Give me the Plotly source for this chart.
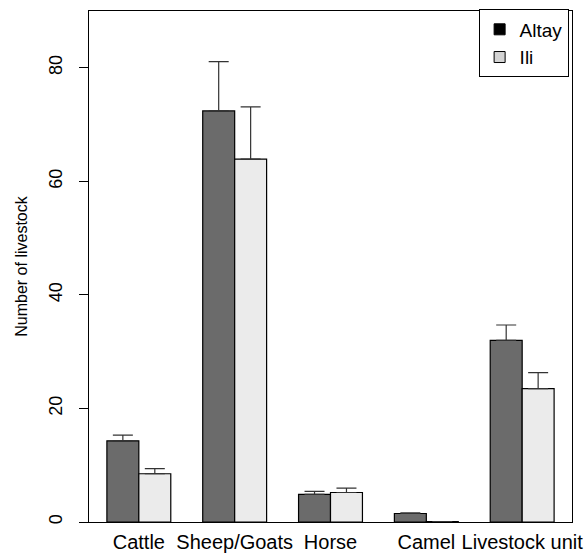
import plotly.graph_objects as go

categories = ["Cattle", "Sheep/Goats", "Horse", "Camel", "Livestock unit"]
altay = [14.3, 72.4, 4.85, 1.5, 32.0]
altay_err = [1.0, 8.7, 0.55, 0.12, 2.7]
ili = [8.5, 63.9, 5.2, 0.05, 23.5]
ili_err = [0.9, 9.2, 0.75, 0.0, 2.8]
series_names = ["Altay", "Ili"]
yticks = [0, 20, 40, 60, 80]

FONT = "Liberation Sans, Arial, Helvetica, sans-serif"

fig = go.Figure()
fig.add_trace(go.Bar(
    x=categories, y=altay, name=series_names[0], showlegend=False,
    marker=dict(color="#6b6b6b", line=dict(color="black", width=1.2)),
    error_y=dict(type="data", array=altay_err, arrayminus=[0] * len(altay),
                 symmetric=False, color="#333333", thickness=1.2, width=10),
))
fig.add_trace(go.Bar(
    x=categories, y=ili, name=series_names[1], showlegend=False,
    marker=dict(color="#ebebeb", line=dict(color="black", width=1.2)),
    error_y=dict(type="data", array=ili_err, arrayminus=[0] * len(ili),
                 symmetric=False, color="#333333", thickness=1.2, width=10),
))
# legend-only entries (R legend style)
fig.add_trace(go.Scatter(
    x=[None], y=[None], mode="markers", name=series_names[0],
    marker=dict(symbol="square", size=11, color="black",
                line=dict(color="black", width=1)),
))
fig.add_trace(go.Scatter(
    x=[None], y=[None], mode="markers", name=series_names[1],
    marker=dict(symbol="square", size=11, color="#d4d4d4",
                line=dict(color="black", width=1)),
))

fig.update_layout(
    width=587, height=554,
    margin=dict(l=89, r=15, t=11, b=32, autoexpand=False),
    paper_bgcolor="white", plot_bgcolor="white",
    barmode="group", bargap=1 / 3, bargroupgap=0,
    font=dict(family=FONT, size=18, color="black"),
    showlegend=True,
    legend=dict(x=0.993, y=1.003, xanchor="right", yanchor="top",
                bordercolor="black", borderwidth=1, bgcolor="white",
                font=dict(size=19), tracegroupgap=0, itemwidth=30),
)
fig.update_xaxes(
    type="category", range=[-0.52, 4.52], automargin=False,
    showline=True, linecolor="black", linewidth=1, mirror=True,
    ticks="", showgrid=False, tickfont=dict(size=20), tickangle=0,
    ticklabelstandoff=2,
)
fig.update_yaxes(
    range=[0, 90], tickvals=yticks, ticktext=[str(v) for v in yticks],
    ticks="outside", ticklen=9, tickcolor="black", tickwidth=1,
    showline=True, linecolor="black", linewidth=1, mirror=True,
    showgrid=False, zeroline=False, tickangle=-90, automargin=False,
    tickfont=dict(size=18), ticklabelstandoff=10,
    title=dict(text="Number of livestock", font=dict(size=16), standoff=14),
)

fig.write_html("out.html")
